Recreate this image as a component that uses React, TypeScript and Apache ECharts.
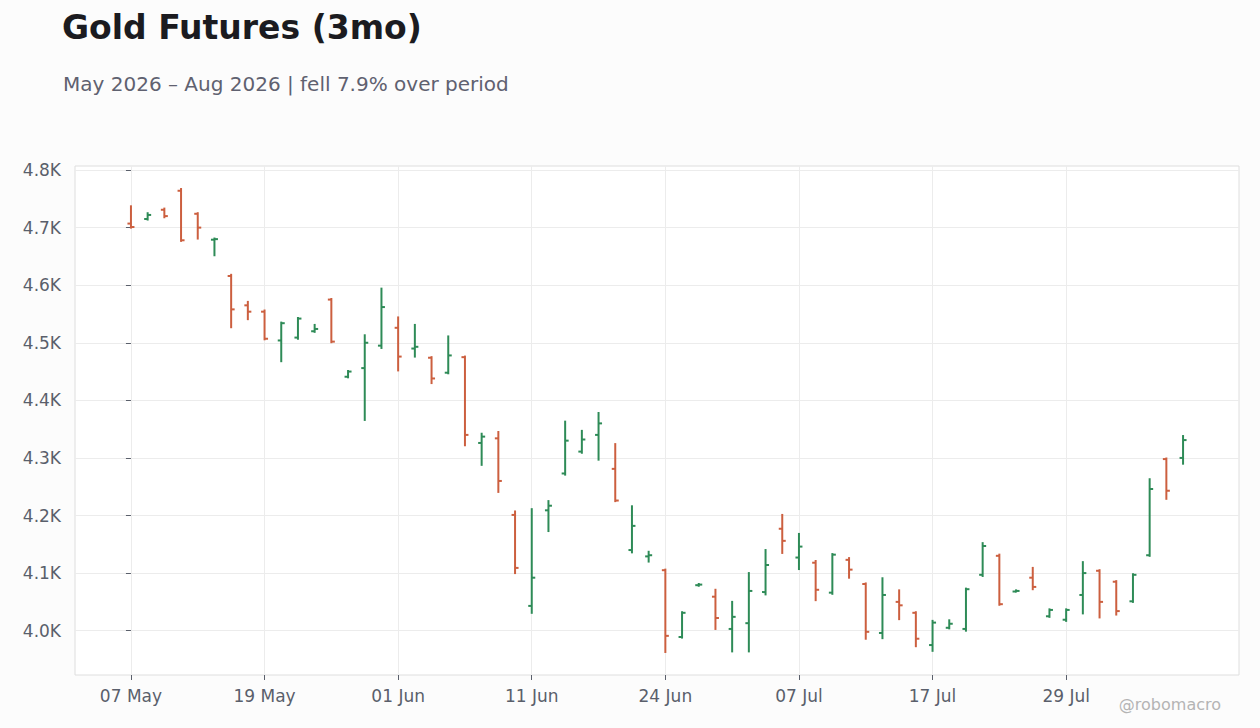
import { useEffect, useRef } from 'react';
import * as echarts from 'echarts';

// Trading days shown on the x axis
const dates = [
    '07 May', '08 May', '11 May', '12 May', '13 May', '14 May', '15 May', '18 May',
    '19 May', '20 May', '21 May', '22 May', '26 May', '27 May', '28 May', '29 May',
    '01 Jun', '02 Jun', '03 Jun', '04 Jun', '05 Jun', '08 Jun', '09 Jun', '10 Jun',
    '11 Jun', '12 Jun', '15 Jun', '16 Jun', '17 Jun', '18 Jun', '22 Jun', '23 Jun',
    '24 Jun', '25 Jun', '26 Jun', '29 Jun', '30 Jun', '01 Jul', '02 Jul', '06 Jul',
    '07 Jul', '08 Jul', '09 Jul', '10 Jul', '13 Jul', '14 Jul', '15 Jul', '16 Jul',
    '17 Jul', '20 Jul', '21 Jul', '22 Jul', '23 Jul', '24 Jul', '27 Jul', '28 Jul',
    '29 Jul', '30 Jul', '31 Jul', '03 Aug', '04 Aug', '05 Aug', '06 Aug', '07 Aug',
];

const opens = [
    4707, 4715, 4731, 4764, 4724, 4679, 4616, 4565, 4554, 4504, 4509, 4520, 4575, 4441, 4456, 4495,
    4526, 4490, 4474, 4448, 4475, 4326, 4334, 4201, 4043, 4209, 4273, 4311, 4340, 4281, 4140, 4129,
    4105, 3989, 4079, 4059, 4003, 4013, 4067, 4177, 4127, 4118, 4066, 4123, 4081, 3996, 4050, 4031,
    3975, 4005, 4003, 4097, 4130, 4068, 4092, 4025, 4019, 4062, 4104, 4085, 4051, 4131, 4298, 4300,
];
const highs = [
    4737, 4725, 4733, 4767, 4725, 4681, 4618, 4571, 4556, 4535, 4543, 4531, 4576, 4451, 4513, 4594,
    4544, 4531, 4475, 4511, 4476, 4342, 4345, 4207, 4211, 4225, 4363, 4347, 4378, 4324, 4216, 4137,
    4106, 4032, 4081, 4071, 4050, 4100, 4140, 4201, 4168, 4121, 4133, 4126, 4082, 4091, 4070, 4032,
    4017, 4018, 4073, 4152, 4132, 4070, 4109, 4037, 4037, 4119, 4105, 4086, 4098, 4263, 4299, 4338,
];
const lows = [
    4700, 4714, 4718, 4677, 4681, 4652, 4527, 4541, 4506, 4468, 4507, 4519, 4501, 4440, 4366, 4491,
    4452, 4476, 4430, 4447, 4322, 4288, 4241, 4100, 4031, 4173, 4271, 4309, 4297, 4225, 4136, 4120,
    3963, 3988, 4078, 4003, 3964, 3964, 4063, 4135, 4107, 4053, 4064, 4092, 3986, 3987, 4020, 3973,
    3965, 4004, 4000, 4095, 4045, 4068, 4072, 4024, 4017, 4030, 4023, 4028, 4050, 4130, 4229, 4290,
];
const closes = [
    4701, 4722, 4720, 4678, 4700, 4680, 4558, 4554, 4507, 4534, 4542, 4524, 4502, 4450, 4500, 4562,
    4476, 4493, 4438, 4478, 4340, 4337, 4260, 4109, 4092, 4217, 4330, 4332, 4360, 4226, 4182, 4131,
    3991, 4031, 4080, 4022, 4024, 4069, 4114, 4156, 4146, 4071, 4132, 4106, 3998, 4062, 4044, 3986,
    4014, 4012, 4072, 4147, 4046, 4069, 4076, 4036, 4036, 4100, 4050, 4034, 4097, 4246, 4243, 4331,
];

const xTickIndices = [0, 8, 16, 24, 32, 40, 48, 56];
const yTicks = [4000, 4100, 4200, 4300, 4400, 4500, 4600, 4700, 4800];

const UP = '#2e8b57';
const DOWN = '#cc5f3f';
const FONT = '"DejaVu Sans", sans-serif';

export default function App() {
    const chartRef = useRef<HTMLDivElement>(null);

    useEffect(() => {
        if (!chartRef.current) return;
        const chart = echarts.init(chartRef.current, undefined, { renderer: 'svg' });

        const data = dates.map((_, i) => [i, opens[i], closes[i], lows[i], highs[i]]);

        chart.setOption({
            animation: false,
            backgroundColor: '#fcfcfc',
            textStyle: { fontFamily: FONT },
            title: [
                {
                    text: 'Gold Futures (3mo)',
                    left: 62,
                    top: 11,
                    padding: 0,
                    textStyle: { fontFamily: FONT, fontSize: 33, fontWeight: 'bold', color: '#1b1b20' },
                },
                {
                    text: 'May 2026 – Aug 2026 | fell 7.9% over period',
                    left: 63,
                    top: 74,
                    padding: 0,
                    textStyle: { fontFamily: FONT, fontSize: 20, fontWeight: 'normal', color: '#5f6170' },
                },
            ],
            graphic: [
                {
                    type: 'text',
                    right: 39,
                    top: 696,
                    style: {
                        text: '@robomacro',
                        fontFamily: FONT,
                        fontSize: 16,
                        fill: '#b4b4b4',
                    },
                },
            ],
            grid: {
                left: 75,
                right: 21,
                top: 166,
                bottom: 53,
                show: true,
                backgroundColor: '#ffffff',
                borderColor: '#dedede',
                borderWidth: 1,
            },
            xAxis: {
                type: 'value',
                min: -3.35,
                max: 66.35,
                axisLine: { show: false },
                axisTick: {
                    show: true,
                    length: 5,
                    lineStyle: { color: '#5a5f6b' },
                    customValues: xTickIndices,
                },
                axisLabel: {
                    customValues: xTickIndices,
                    formatter: (v: number) => dates[Math.round(v)] ?? '',
                    fontSize: 17,
                    color: '#5a5f6b',
                    margin: 12,
                    fontFamily: FONT,
                },
                splitLine: { show: true, lineStyle: { color: '#ececec', width: 1 } },
            },
            yAxis: {
                type: 'value',
                min: 3923,
                max: 4807,
                axisLine: { show: false },
                axisTick: {
                    show: true,
                    length: 5,
                    lineStyle: { color: '#5a5f6b' },
                    customValues: yTicks,
                },
                axisLabel: {
                    customValues: yTicks,
                    formatter: (v: number) => (v / 1000).toFixed(1) + 'K',
                    fontSize: 17,
                    color: '#5a5f6b',
                    margin: 14,
                    fontFamily: FONT,
                },
                splitLine: { show: true, lineStyle: { color: '#ececec', width: 1 } },
            },
            series: [
                {
                    type: 'custom',
                    data,
                    encode: { x: 0, y: [1, 2, 3, 4] },
                    clip: true,
                    renderItem: (_params: any, api: any) => {
                        const i = api.value(0);
                        const o = api.value(1);
                        const c = api.value(2);
                        const pO = api.coord([i, o]);
                        const pC = api.coord([i, c]);
                        const pL = api.coord([i, api.value(3)]);
                        const pH = api.coord([i, api.value(4)]);
                        const color = c >= o ? UP : DOWN;
                        const w = 3.5;
                        const style = { stroke: color, lineWidth: 2 };
                        return {
                            type: 'group',
                            children: [
                                { type: 'line', shape: { x1: pH[0], y1: pH[1] - 1, x2: pL[0], y2: pL[1] + 1 }, style },
                                { type: 'line', shape: { x1: pO[0] - w, y1: pO[1], x2: pO[0], y2: pO[1] }, style },
                                { type: 'line', shape: { x1: pC[0], y1: pC[1], x2: pC[0] + w, y2: pC[1] }, style },
                            ],
                        };
                    },
                },
            ],
        });

        return () => {
            chart.dispose();
        };
    }, []);

    return (
        <div
            ref={chartRef}
            style={{ position: 'fixed', left: 0, top: 0, width: 1260, height: 728 }}
        />
    );
}
